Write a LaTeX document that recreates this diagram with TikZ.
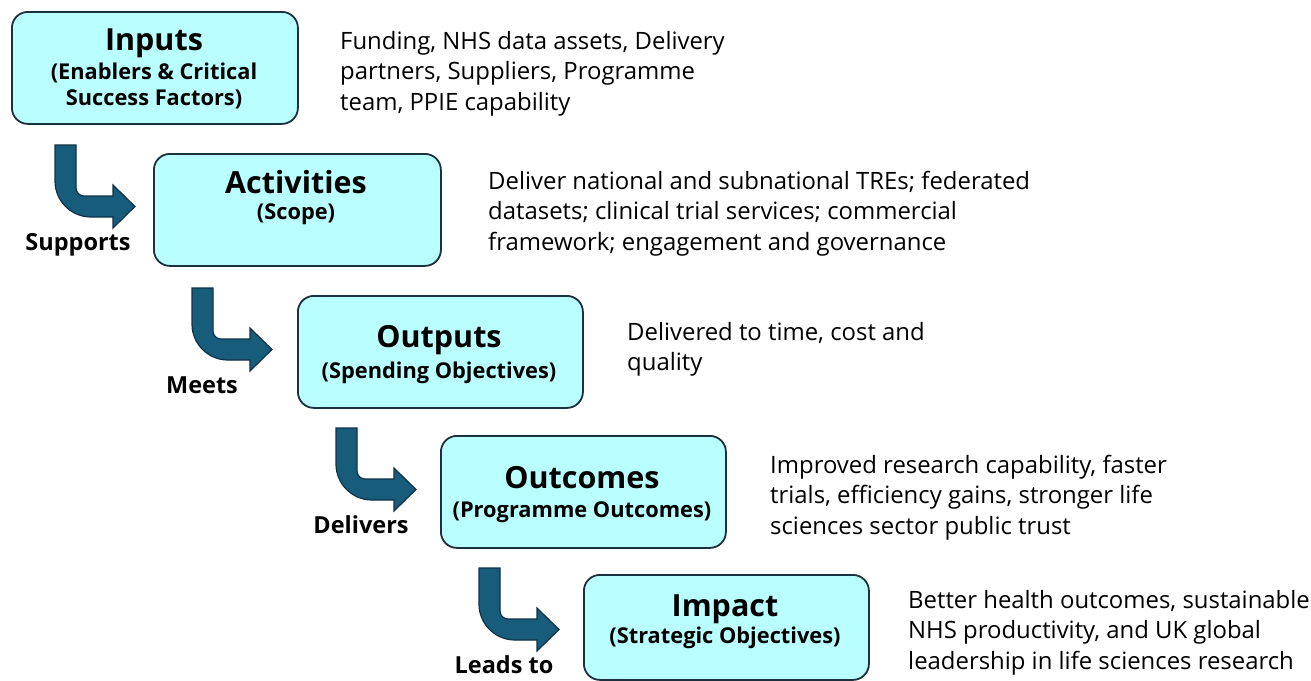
\documentclass[tikz,border=0pt]{standalone}
\usepackage{fontspec}
\setmainfont{Open Sans}
\definecolor{boxfill}{RGB}{186,255,255}
\definecolor{boxline}{RGB}{28,48,62}
\definecolor{arrowfill}{RGB}{24,92,124}
\definecolor{arrowline}{RGB}{16,50,70}
\begin{document}
\begin{tikzpicture}[x=1pt,y=-1pt,
  stage/.style={draw=boxline, line width=1.8pt, fill=boxfill, rounded corners=16pt,
    anchor=north west, inner sep=0pt},
  title/.style={font=\fontsize{30.5}{32}\selectfont\bfseries, anchor=base, inner sep=0pt},
  sub/.style={font=\fontsize{21.8}{25}\selectfont\bfseries, anchor=base, inner sep=0pt, align=center},
  desc/.style={font=\fontsize{23.9}{30.5}\selectfont, anchor=base west, inner sep=0pt, align=left},
  verb/.style={font=\fontsize{23.5}{26}\selectfont\bfseries, anchor=base, inner sep=0pt},
  bend/.pic={
    \filldraw[fill=arrowfill, draw=arrowline, line width=1.2pt, line join=miter]
      (0,0) -- (21,0) -- (21,43)
      .. controls (21,47.4) and (24.6,51) .. (29,51)
      -- (58,51) -- (58,40) -- (80,61.5) -- (58,83) -- (58,72) -- (36,72)
      .. controls (16.1,72) and (0,55.9) .. (0,36) -- cycle;
  }]
\useasboundingbox (0,0) rectangle (1311,680);

% stage boxes
\node[stage, minimum width=286pt, minimum height=112pt] (inputs)     at (11,11)   {};
\node[stage, minimum width=287pt, minimum height=112pt] (activities) at (153,153) {};
\node[stage, minimum width=285pt, minimum height=112pt] (outputs)    at (297,295) {};
\node[stage, minimum width=285pt, minimum height=112pt] (outcomes)   at (440,435) {};
\node[stage, minimum width=285pt, minimum height=105pt] (impact)     at (583,574) {};

% titles and subtitles
\node[title] (inputsT) at (154,50) {Inputs};
\node[sub]   (inputsS) at (154,79) {(Enablers \& Critical};
\node[sub]   (inputsS2) at (154,105) {Success Factors)};
\node[title] (activitiesT) at (296,193) {Activities};
\node[sub]   (activitiesS) at (296,219) {(Scope)};
\node[title] (outputsT) at (439,347) {Outputs};
\node[sub]   (outputsS) at (439,378) {(Spending Objectives)};
\node[title] (outcomesT) at (582,488) {Outcomes};
\node[sub]   (outcomesS) at (582,517) {(Programme Outcomes)};
\node[title] (impactT) at (725,616) {Impact};
\node[sub]   (impactS) at (725,643) {(Strategic Objectives)};

% descriptions (anchored at the baseline of their last line)
\node[desc] (inputsD) at (340,110) {Funding, NHS data assets, Delivery\\partners, Suppliers, Programme\\team, PPIE capability};
\node[desc] (activitiesD) at (488,250) {Deliver national and subnational TREs; federated\\datasets; clinical trial services; commercial\\framework; engagement and governance};
\node[desc] (outputsD) at (627,370.5) {Delivered to time, cost and\\quality};
\node[desc] (outcomesD) at (770,534) {Improved research capability, faster\\trials, efficiency gains, stronger life\\sciences sector public trust};
\node[desc] (impactD) at (908,669) {Better health outcomes, sustainable\\NHS productivity, and UK global\\leadership in life sciences research};

% bent arrows between stages
\coordinate (a1) at (55,145);
\coordinate (a2) at (192,288);
\coordinate (a3) at (336,428);
\coordinate (a4) at (479,568);
\pic at (a1) {bend};
\pic at (a2) {bend};
\pic at (a3) {bend};
\pic at (a4) {bend};

% arrow labels
\node[verb] (l1) at (78,250) {Supports};
\node[verb] (l2) at (202,393) {Meets};
\node[verb] (l3) at (361,533) {Delivers};
\node[verb] (l4) at (504,673) {Leads to};
\end{tikzpicture}
\end{document}
